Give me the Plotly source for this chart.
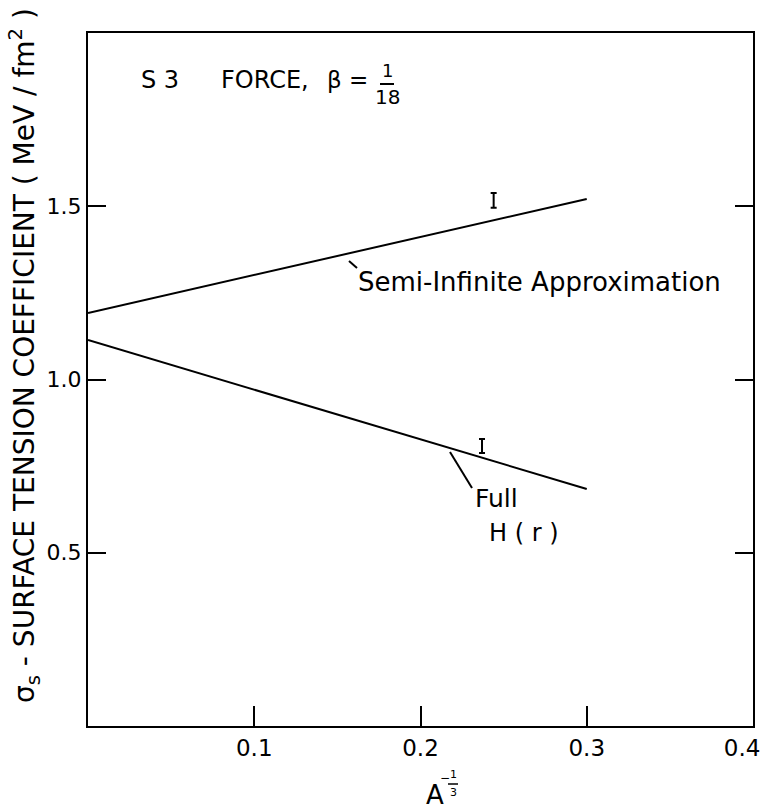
import plotly.graph_objects as go

# Surface tension coefficient vs A^(-1/3), S3 force, beta = 1/18
a_inv_third = [0.0, 0.3]
semi_infinite = [1.192, 1.521]
full_hr = [1.114, 0.684]

# Isolated points with error bars
err_x = [0.244, 0.237]
err_y = [1.517, 0.808]
err_size = [0.021, 0.020]

x_ticks = [0.1, 0.2, 0.3, 0.4]
x_tick_text = ["0.1", "0.2", "0.3", "0.4&nbsp;&nbsp;&nbsp;"]
y_ticks = [0.5, 1.0, 1.5]
y_tick_text = ["0.5", "1.0", "1.5"]

FONT = "DejaVu Sans"
W, H = 769, 810
L, R, T, B = 88, 16, 33, 84
PW, PH = W - L - R, H - T - B


def px(xp):
    return (xp - L) / PW


def py(yp):
    return (H - B - yp) / PH


fig = go.Figure()
line_style = dict(color="black", width=2)
fig.add_trace(go.Scatter(x=a_inv_third, y=semi_infinite, mode="lines",
                         line=line_style, showlegend=False))
fig.add_trace(go.Scatter(x=a_inv_third, y=full_hr, mode="lines",
                         line=line_style, showlegend=False))
fig.add_trace(go.Scatter(x=err_x, y=err_y, mode="markers",
                         marker=dict(size=1, color="black"),
                         error_y=dict(type="data", array=err_size, visible=True,
                                      color="black", thickness=2, width=3),
                         showlegend=False))

ann = []


def text(s, x, y, size, xanchor="center", angle=0):
    ann.append(dict(text=s, x=px(x), y=py(y), xref="paper", yref="paper",
                    showarrow=False, xanchor=xanchor, yanchor="middle",
                    textangle=angle, font=dict(family=FONT, size=size, color="black")))


# Header with stacked fraction
text("S 3", 139, 80, 24, xanchor="left")
text("FORCE,", 219, 80, 24, xanchor="left")
text("β =", 325, 80, 23, xanchor="left")
text("1", 387, 71, 18)
text("18", 387, 97, 20)

# Curve labels
text("Semi-Infinite Approximation", 356, 282, 26, xanchor="left")
text("Full", 473, 498, 25, xanchor="left")
text("H ( r )", 487, 533, 24, xanchor="left")

# Axis titles
text("σ<sub>s</sub> - SURFACE TENSION COEFFICIENT ( MeV / fm<sup>2</sup> )",
     24, 356, 28, angle=-90)
text("A", 435, 795, 26)
text("−", 445, 778, 12)
text("1", 453, 774, 11)
text("3", 453, 792, 11)

shapes = [
    dict(type="line", xref="paper", yref="paper", x0=px(380), x1=px(394),
         y0=py(84), y1=py(84), line=dict(color="black", width=2)),
    dict(type="line", xref="paper", yref="paper", x0=px(448), x1=px(458),
         y0=py(784), y1=py(784), line=dict(color="black", width=1.5)),
    # leader lines from curves to their labels
    dict(type="line", xref="paper", yref="paper", x0=px(349), x1=px(357),
         y0=py(261), y1=py(268), line=dict(color="black", width=2)),
    dict(type="line", xref="paper", yref="paper", x0=px(450), x1=px(472),
         y0=py(452), y1=py(488), line=dict(color="black", width=2)),
]

fig.update_layout(
    width=W, height=H,
    margin=dict(l=L, r=R, t=T, b=B, autoexpand=False),
    plot_bgcolor="white", paper_bgcolor="white",
    annotations=ann, shapes=shapes,
    font=dict(family=FONT, color="black"),
)
fig.update_xaxes(range=[0, 0.4], tickvals=x_ticks, ticktext=x_tick_text,
                 ticks="inside", ticklen=20, tickwidth=2, tickcolor="black",
                 showline=True, linewidth=2, linecolor="black", mirror=True,
                 showgrid=False, zeroline=False, ticklabeloverflow="allow",
                 automargin=False,
                 tickfont=dict(family=FONT, size=23, color="black"))
fig.update_yaxes(range=[0, 2.0], tickvals=y_ticks, ticktext=y_tick_text,
                 ticks="inside", ticklen=18, tickwidth=2, tickcolor="black",
                 showline=True, linewidth=2, linecolor="black", mirror="ticks",
                 showgrid=False, zeroline=False, automargin=False,
                 tickfont=dict(family=FONT, size=22, color="black"))

fig.write_html("out.html")
